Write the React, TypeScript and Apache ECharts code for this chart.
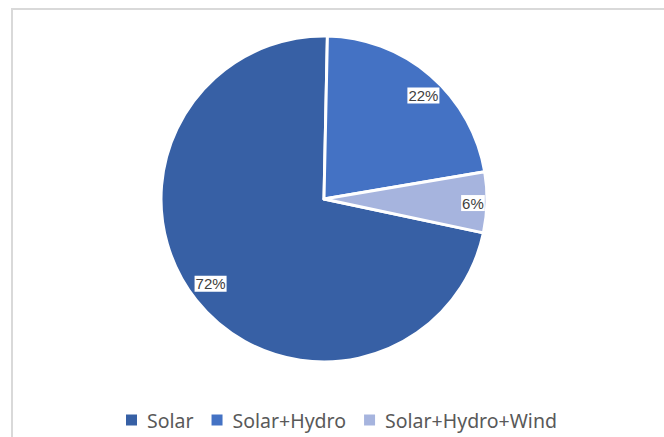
import React, { useEffect, useRef } from "react";
import * as echarts from "echarts";

const categories = ["Solar", "Solar+Hydro", "Solar+Hydro+Wind"];
const values = [72, 22, 6];
const colors = ["#3760A5", "#4472C4", "#A6B4DE"];

export default function App() {
  const ref = useRef<HTMLDivElement>(null);
  useEffect(() => {
    if (!ref.current) return;
    const chart = echarts.init(ref.current, null, { renderer: "svg" });
    const data = categories.map((name, i) => ({
      name,
      value: values[i],
      itemStyle: { color: colors[i] },
    }));
    const labelOffsets = [
      [1, -6],
      [4, 7],
      [3, 1],
    ];
    chart.setOption({
      animation: false,
      backgroundColor: "#ffffff",
      graphic: [
        {
          type: "rect",
          shape: { x: 12, y: 9, width: 700, height: 500 },
          style: { fill: "none", stroke: "#d9d9d9", lineWidth: 2 },
          silent: true,
        },
      ],
      legend: {
        bottom: 7,
        left: 126,
        padding: 0,
        itemWidth: 11,
        itemHeight: 11,
        itemGap: 18,
        icon: "rect",
        itemStyle: { borderWidth: 0 },
        textStyle: {
          fontFamily: "Noto Sans",
          fontSize: 19.5,
          color: "#595959",
          padding: [0, 0, 0, 5],
        },
        data: categories,
      },
      series: [
        {
          type: "pie",
          center: [324, 199],
          radius: [0, 163],
          startAngle: 348,
          clockwise: true,
          percentPrecision: 0,
          itemStyle: { borderColor: "#ffffff", borderWidth: 3 },
          label: { show: false },
          labelLine: { show: false },
          emphasis: { disabled: true },
          data,
        },
        {
          type: "pie",
          center: [324, 199],
          radius: [123, 163],
          startAngle: 348,
          clockwise: true,
          percentPrecision: 0,
          silent: true,
          itemStyle: { color: "rgba(0,0,0,0)", borderWidth: 0 },
          labelLine: { show: false },
          emphasis: { disabled: true },
          label: {
            show: true,
            position: "inside",
            formatter: "{d}%",
            fontFamily: "Liberation Sans",
            fontSize: 15,
            color: "#404040",
            backgroundColor: "#ffffff",
            padding: [1, 1, 0, 1],
          },
          data: categories.map((name, i) => ({
            name,
            value: values[i],
            label: { offset: labelOffsets[i] },
          })),
        },
      ],
    });
    return () => chart.dispose();
  }, []);
  return (
    <div
      ref={ref}
      style={{ position: "fixed", left: 0, top: 0, width: 664, height: 437 }}
    />
  );
}
